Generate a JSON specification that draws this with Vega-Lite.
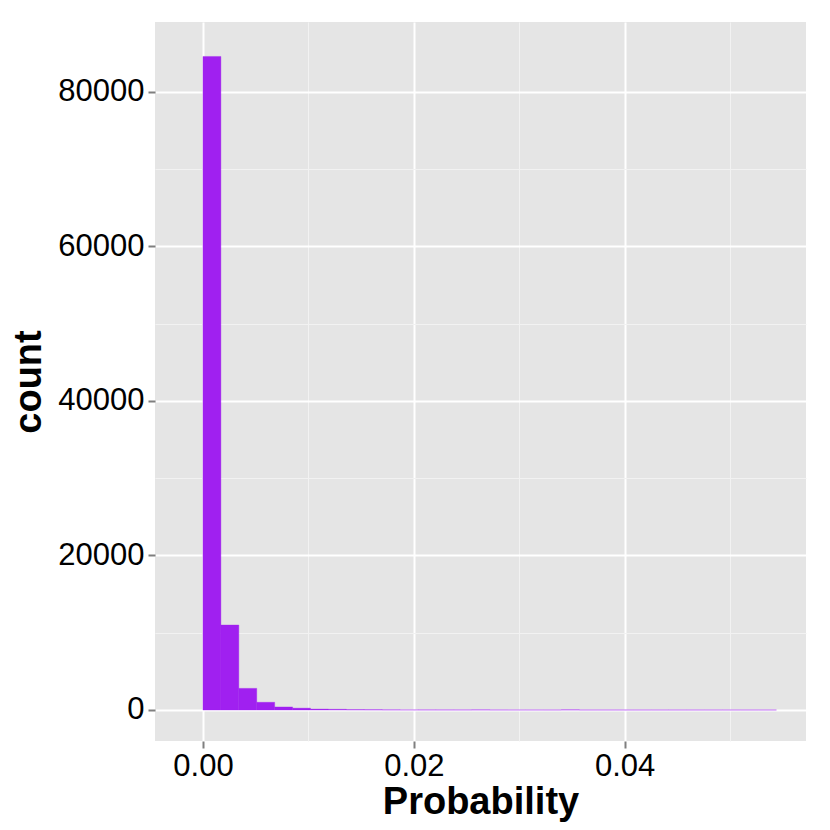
{
  "$schema": "https://vega.github.io/schema/vega-lite/v6.json",
  "width": 651,
  "height": 719,
  "autosize": "none",
  "padding": {"left": 155, "top": 22, "right": 24, "bottom": 89},
  "background": "white",
  "config": {
    "view": {"fill": "#E5E5E5", "stroke": null},
    "font": "Liberation Sans"
  },
  "data": {
    "values": [
      {"bin_start": 0.0, "bin_end": 0.0017, "count": 84600},
      {"bin_start": 0.0017, "bin_end": 0.0034, "count": 11000},
      {"bin_start": 0.0034, "bin_end": 0.0051, "count": 2800},
      {"bin_start": 0.0051, "bin_end": 0.0068, "count": 1000},
      {"bin_start": 0.0068, "bin_end": 0.0085, "count": 400},
      {"bin_start": 0.0085, "bin_end": 0.0102, "count": 240},
      {"bin_start": 0.0102, "bin_end": 0.0119, "count": 120},
      {"bin_start": 0.0119, "bin_end": 0.0136, "count": 90},
      {"bin_start": 0.0136, "bin_end": 0.0153, "count": 50},
      {"bin_start": 0.0153, "bin_end": 0.017, "count": 40},
      {"bin_start": 0.017, "bin_end": 0.0187, "count": 20},
      {"bin_start": 0.0187, "bin_end": 0.0204, "count": 15},
      {"bin_start": 0.0204, "bin_end": 0.0221, "count": 12},
      {"bin_start": 0.0221, "bin_end": 0.0238, "count": 10},
      {"bin_start": 0.0238, "bin_end": 0.0255, "count": 8},
      {"bin_start": 0.0255, "bin_end": 0.0272, "count": 20},
      {"bin_start": 0.0272, "bin_end": 0.0289, "count": 5},
      {"bin_start": 0.0289, "bin_end": 0.0306, "count": 4},
      {"bin_start": 0.0306, "bin_end": 0.0323, "count": 4},
      {"bin_start": 0.0323, "bin_end": 0.034, "count": 3},
      {"bin_start": 0.034, "bin_end": 0.0357, "count": 25},
      {"bin_start": 0.0357, "bin_end": 0.0374, "count": 3},
      {"bin_start": 0.0374, "bin_end": 0.0391, "count": 3},
      {"bin_start": 0.0391, "bin_end": 0.0408, "count": 2},
      {"bin_start": 0.0408, "bin_end": 0.0425, "count": 2},
      {"bin_start": 0.0425, "bin_end": 0.0442, "count": 2},
      {"bin_start": 0.0442, "bin_end": 0.0459, "count": 2},
      {"bin_start": 0.0459, "bin_end": 0.0476, "count": 2},
      {"bin_start": 0.0476, "bin_end": 0.0493, "count": 2},
      {"bin_start": 0.0493, "bin_end": 0.051, "count": 2},
      {"bin_start": 0.051, "bin_end": 0.0527, "count": 2},
      {"bin_start": 0.0527, "bin_end": 0.0544, "count": 2}
    ]
  },
  "resolve": {"axis": {"x": "independent", "y": "independent"}},
  "layer": [
    {
      "mark": {"type": "bar", "opacity": 0},
      "encoding": {
        "x": {
          "field": "bin_start", "type": "quantitative",
          "scale": {"domain": [-0.00455, 0.0572], "nice": false, "zero": false},
          "axis": {"orient": "bottom", "values": [0.01, 0.03, 0.05], "grid": true, "gridColor": "#F2F2F2", "gridWidth": 1, "labels": false, "ticks": false, "domain": false, "title": null}
        },
        "x2": {"field": "bin_end"},
        "y": {
          "field": "count", "type": "quantitative",
          "scale": {"domain": [-4013, 89060], "nice": false, "zero": false},
          "axis": {"orient": "left", "values": [10000, 30000, 50000, 70000], "grid": true, "gridColor": "#F2F2F2", "gridWidth": 1, "labels": false, "ticks": false, "domain": false, "title": null}
        },
        "y2": {"datum": 0}
      }
    },
    {
      "mark": {"type": "bar", "fill": "#A020F0", "stroke": "#A020F0", "strokeOpacity": 0.35, "strokeWidth": 1},
      "encoding": {
        "x": {
          "field": "bin_start", "type": "quantitative",
          "scale": {"domain": [-0.00455, 0.0572], "nice": false, "zero": false},
          "axis": {"orient": "bottom", "values": [0, 0.02, 0.04], "format": ".2f", "grid": true, "gridColor": "white", "gridWidth": 2,
            "domain": false, "ticks": true, "tickColor": "#7F7F7F", "tickSize": 7, "tickWidth": 2,
            "labelFontSize": 31, "labelColor": "black", "labelPadding": 3,
            "title": "Probability", "titleFontSize": 38, "titleFontWeight": "bold", "titleColor": "black", "titlePadding": 2}
        },
        "x2": {"field": "bin_end"},
        "y": {
          "field": "count", "type": "quantitative",
          "scale": {"domain": [-4013, 89060], "nice": false, "zero": false},
          "axis": {"orient": "left", "values": [0, 20000, 40000, 60000, 80000], "format": "d", "grid": true, "gridColor": "white", "gridWidth": 2,
            "domain": false, "ticks": true, "tickColor": "#7F7F7F", "tickSize": 7, "tickWidth": 2,
            "labelFontSize": 31, "labelColor": "black", "labelPadding": 4,
            "title": "count", "titleFontSize": 38, "titleFontWeight": "bold", "titleColor": "black", "titlePadding": 9}
        },
        "y2": {"datum": 0}
      }
    }
  ]
}
